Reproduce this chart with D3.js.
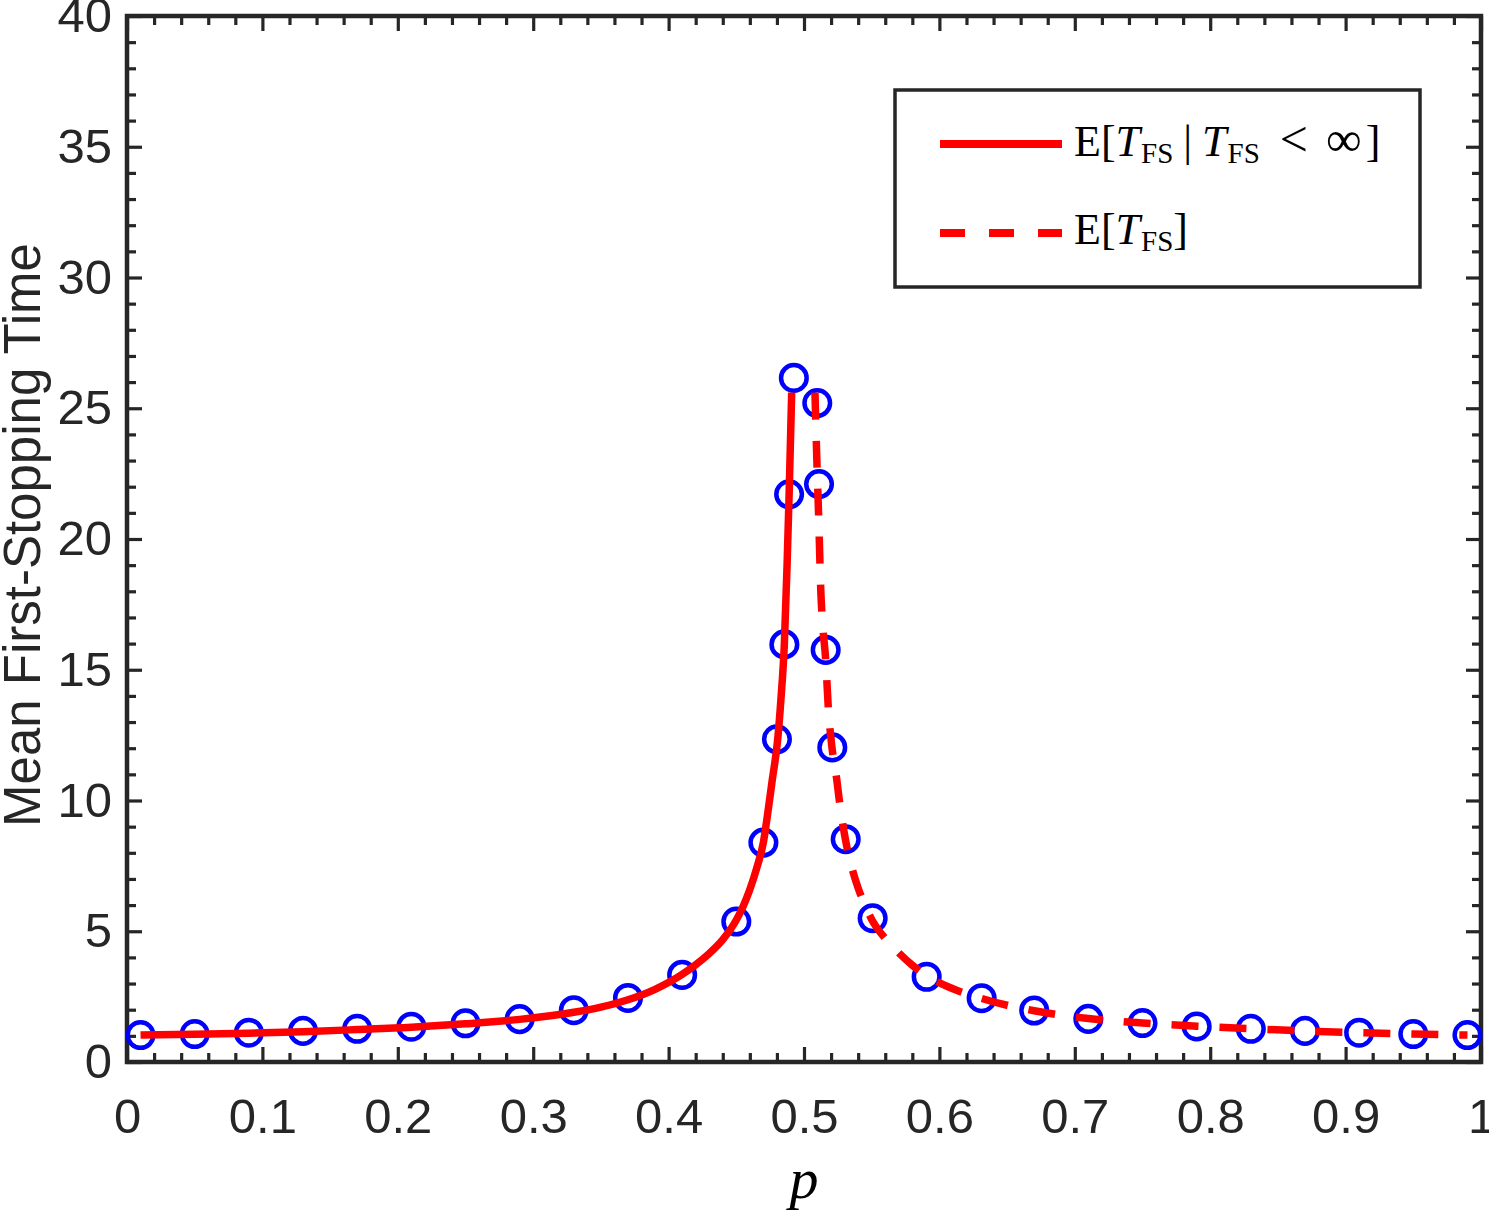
<!DOCTYPE html>
<html>
<head>
<meta charset="utf-8">
<script src="https://cdn.jsdelivr.net/npm/d3@7"></script>
<style>
    body { margin: 0; background: #fff; }
    .axis text { font-family: "Liberation Sans", Arial, sans-serif; font-size: 49px; fill: #262626; }
    .axis line { stroke: #262626; stroke-width: 3.2; }
    .axis path { display: none; }
    .serif { font-family: "Liberation Serif", "Times New Roman", serif; fill: #000; }
</style>
</head>
<body>
<div id="chart"></div>
<script>

// tick values / labels
const xTicks = [0, 0.1, 0.2, 0.3, 0.4, 0.5, 0.6, 0.7, 0.8, 0.9, 1];
const xTickLabels = ["0", "0.1", "0.2", "0.3", "0.4", "0.5", "0.6", "0.7", "0.8", "0.9", "1"];
const yTicks = [0, 5, 10, 15, 20, 25, 30, 35, 40];
const yTickLabels = ["0", "5", "10", "15", "20", "25", "30", "35", "40"];

// simulated points (blue circles)
const simP = [0.01, 0.05, 0.09, 0.13, 0.17, 0.21, 0.25, 0.29, 0.33, 0.37, 0.41, 0.45, 0.47, 0.48, 0.4855, 0.489, 0.4925,
    0.5098, 0.5111, 0.516, 0.5209, 0.5308, 0.5507, 0.5906, 0.6312, 0.67, 0.71, 0.75, 0.79, 0.83, 0.87, 0.91, 0.95, 0.99];
const simT = [1.03, 1.07, 1.12, 1.19, 1.27, 1.35, 1.48, 1.64, 1.98, 2.45, 3.33, 5.37, 8.39, 12.34, 15.97, 21.71, 26.16,
    25.2, 22.1, 15.76, 12.03, 8.52, 5.50, 3.26, 2.44, 1.97, 1.65, 1.49, 1.36, 1.27, 1.19, 1.12, 1.07, 1.03];

// E[T_FS | T_FS < inf]  (solid, p < 1/2)
const condP = [0.01, 0.05, 0.09, 0.13, 0.17, 0.21, 0.25, 0.29, 0.33, 0.35, 0.37, 0.39, 0.41, 0.42, 0.43, 0.44, 0.45,
    0.455, 0.46, 0.465, 0.47, 0.4745, 0.4766, 0.4806, 0.483, 0.4855, 0.4875, 0.489, 0.4909];
const condT = [1.03, 1.06, 1.10, 1.16, 1.24, 1.33, 1.46, 1.63, 1.90, 2.10, 2.38, 2.78, 3.35, 3.72, 4.15, 4.68, 5.43,
    5.95, 6.6, 7.4, 8.4, 10.0, 10.8, 12.35, 13.9, 16.0, 19.0, 21.7, 25.6];

// E[T_FS]  (dashed, p > 1/2)
const uncondP = [0.5081, 0.5095, 0.5108, 0.5125, 0.514, 0.516, 0.518, 0.5205, 0.5242, 0.5261, 0.531, 0.535, 0.54, 0.545,
    0.55, 0.56, 0.57, 0.58, 0.59, 0.61, 0.63, 0.65, 0.67, 0.71, 0.75, 0.79, 0.83, 0.87, 0.91, 0.95, 0.99];
const uncondT = [25.6, 23.0, 20.9, 17.9, 16.6, 15.4, 13.5, 12.1, 10.8, 10.0, 8.4, 7.5, 6.65, 6.0,
    5.45, 4.72, 4.17, 3.70, 3.32, 2.80, 2.45, 2.17, 1.96, 1.66, 1.49, 1.37, 1.27, 1.19, 1.12, 1.07, 1.03];

const axisColor = "#262626";

const margin = {top: 16, right: 8, bottom: 158, left: 127};
const width = 1489 - margin.left - margin.right;
const height = 1220 - margin.top - margin.bottom;

const svg = d3.select("#chart").append("svg")
    .attr("width", 1489)
    .attr("height", 1220);

const g = svg.append("g")
    .attr("transform", "translate(" + margin.left + "," + margin.top + ")");

const x = d3.scaleLinear().domain([0, 1]).range([0, width]);
const y = d3.scaleLinear().domain([0, 40]).range([height, 0]);

const xMinor = d3.range(0, 1.0001, 0.02).filter(v => Math.abs(v * 10 - Math.round(v * 10)) > 1e-6);
const yMinor = d3.range(0, 40.001, 1).filter(v => v % 5 !== 0);

// major ticks on all four sides
g.append("g").attr("class", "axis")
    .attr("transform", "translate(0," + height + ")")
    .call(d3.axisBottom(x).tickValues(xTicks).tickFormat((d, i) => xTickLabels[i])
        .tickSizeInner(-15).tickSizeOuter(0).tickPadding(36));
g.append("g").attr("class", "axis")
    .call(d3.axisTop(x).tickValues(xTicks).tickFormat("").tickSizeInner(-15).tickSizeOuter(0));
g.append("g").attr("class", "axis")
    .call(d3.axisLeft(y).tickValues(yTicks).tickFormat((d, i) => yTickLabels[i])
        .tickSizeInner(-15).tickSizeOuter(0).tickPadding(15));
g.append("g").attr("class", "axis")
    .attr("transform", "translate(" + width + ",0)")
    .call(d3.axisRight(y).tickValues(yTicks).tickFormat("").tickSizeInner(-15).tickSizeOuter(0));

// minor ticks
g.append("g").attr("class", "axis")
    .attr("transform", "translate(0," + height + ")")
    .call(d3.axisBottom(x).tickValues(xMinor).tickFormat("").tickSizeInner(-9).tickSizeOuter(0));
g.append("g").attr("class", "axis")
    .call(d3.axisTop(x).tickValues(xMinor).tickFormat("").tickSizeInner(-9).tickSizeOuter(0));
g.append("g").attr("class", "axis")
    .call(d3.axisLeft(y).tickValues(yMinor).tickFormat("").tickSizeInner(-9).tickSizeOuter(0));
g.append("g").attr("class", "axis")
    .attr("transform", "translate(" + width + ",0)")
    .call(d3.axisRight(y).tickValues(yMinor).tickFormat("").tickSizeInner(-9).tickSizeOuter(0));

// box
g.append("rect")
    .attr("width", width)
    .attr("height", height)
    .attr("fill", "none")
    .attr("stroke", axisColor)
    .attr("stroke-width", 4.5);

// circles
const simData = simP.map((p, i) => ({p: p, t: simT[i]}));
g.selectAll("circle.sim")
    .data(simData)
    .enter()
    .append("circle")
    .attr("class", "sim")
    .attr("cx", d => x(d.p))
    .attr("cy", d => y(d.t))
    .attr("r", 12.8)
    .attr("fill", "none")
    .attr("stroke", "#0000ff")
    .attr("stroke-width", 4.5);

const line = d3.line()
    .x(d => x(d[0]))
    .y(d => y(d[1]))
    .curve(d3.curveMonotoneX);

g.append("path")
    .datum(condP.map((p, i) => [p, condT[i]]))
    .attr("d", line)
    .attr("fill", "none")
    .attr("stroke", "#ff0000")
    .attr("stroke-width", 7.5);

g.append("path")
    .datum(uncondP.map((p, i) => [p, uncondT[i]]))
    .attr("d", line)
    .attr("fill", "none")
    .attr("stroke", "#ff0000")
    .attr("stroke-width", 7.5)
    .attr("stroke-dasharray", "27 21");

// axis labels
svg.append("text")
    .attr("transform", "translate(40,535) rotate(-90)")
    .attr("text-anchor", "middle")
    .style("font-family", "'Liberation Sans', Arial, sans-serif")
    .style("font-size", "51px")
    .style("fill", axisColor)
    .text("Mean First-Stopping Time");

svg.append("text")
    .attr("class", "serif")
    .attr("x", margin.left + x(0.5))
    .attr("y", 1198)
    .attr("text-anchor", "middle")
    .style("font-size", "58px")
    .style("font-style", "italic")
    .text("p");

// legend
const legend = svg.append("g");
legend.append("rect")
    .attr("x", 895).attr("y", 90)
    .attr("width", 525).attr("height", 197)
    .attr("fill", "#fff")
    .attr("stroke", axisColor)
    .attr("stroke-width", 3.5);

legend.append("line")
    .attr("x1", 940).attr("x2", 1062).attr("y1", 144).attr("y2", 144)
    .attr("stroke", "#ff0000").attr("stroke-width", 8);
legend.append("line")
    .attr("x1", 940).attr("x2", 1062).attr("y1", 233).attr("y2", 233)
    .attr("stroke", "#ff0000").attr("stroke-width", 8)
    .attr("stroke-dasharray", "25 24");

function subFS(t) {
    t.append("tspan").attr("dy", 7).attr("dx", 1).style("font-size", "29px").text("FS");
}

const l1 = legend.append("text").attr("class", "serif").attr("x", 1074).attr("y", 156).style("font-size", "44px");
l1.append("tspan").text("E[");
l1.append("tspan").style("font-style", "italic").text("T");
subFS(l1);
l1.append("tspan").attr("dy", -7).attr("dx", 10).text("|");
l1.append("tspan").attr("dx", 10).style("font-style", "italic").text("T");
subFS(l1);
l1.append("tspan").attr("dy", -7).attr("dx", 20).style("font-size", "50px").text("<");
l1.append("tspan").attr("dx", 18).style("font-size", "50px").text("\u221E");
l1.append("tspan").attr("dx", 4).text("]");

const l2 = legend.append("text").attr("class", "serif").attr("x", 1074).attr("y", 244).style("font-size", "44px");
l2.append("tspan").text("E[");
l2.append("tspan").style("font-style", "italic").text("T");
subFS(l2);
l2.append("tspan").attr("dy", -7).text("]");

</script>
</body>
</html>
